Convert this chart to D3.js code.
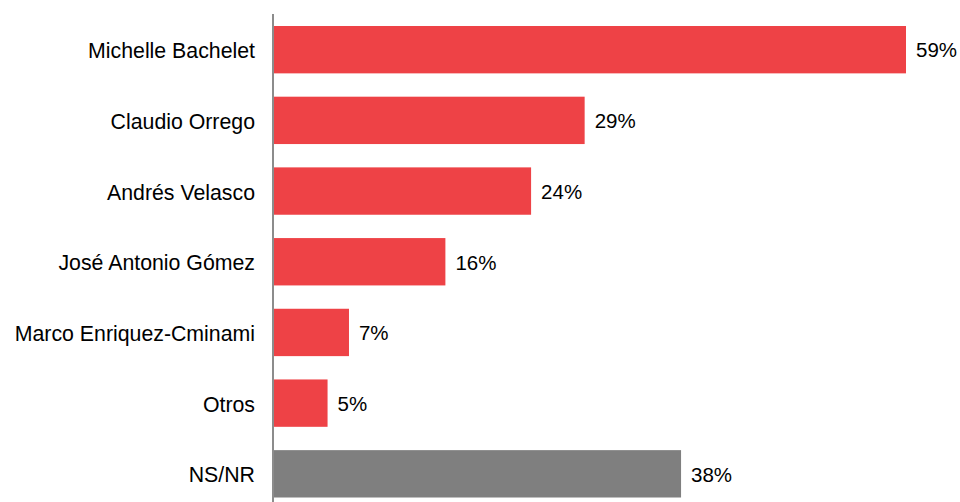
<!DOCTYPE html>
<html>
<head>
<meta charset="utf-8">
<script src="https://cdn.jsdelivr.net/npm/d3@7"></script>
<style>
  html, body { margin: 0; padding: 0; background: #fff; }
  text { font-family: "Liberation Sans", Arial, sans-serif; }
</style>
</head>
<body>
<svg id="chart" width="960" height="502"></svg>
<script>
const categories = ["Michelle Bachelet", "Claudio Orrego", "Andrés Velasco", "José Antonio Gómez", "Marco Enriquez-Cminami", "Otros", "NS/NR"];
const values = [59, 29, 24, 16, 7, 5, 38];
const colors = ["#EE4246", "#EE4246", "#EE4246", "#EE4246", "#EE4246", "#EE4246", "#7F7F7F"];

const svg = d3.select("#chart");
const x0 = 274;
const x = d3.scaleLinear().domain([0, 59]).range([x0, 906]);
const y = d3.scaleBand().domain(categories).range([26, 497.5]).paddingInner(0.33).paddingOuter(0);

const data = categories.map((c, i) => ({ c, v: values[i], col: colors[i] }));

svg.selectAll("rect.bar").data(data).enter().append("rect")
  .attr("class", "bar")
  .attr("x", x(0))
  .attr("y", d => y(d.c))
  .attr("width", d => x(d.v) - x(0))
  .attr("height", y.bandwidth())
  .attr("fill", d => d.col);

svg.append("line")
  .attr("x1", 273).attr("x2", 273)
  .attr("y1", 14).attr("y2", 502)
  .attr("stroke", "#8C8C8C").attr("stroke-width", 2);

svg.selectAll("text.cat").data(data).enter().append("text")
  .attr("class", "cat")
  .attr("x", 255)
  .attr("y", d => y(d.c) + y.bandwidth() / 2)
  .attr("dy", "0.4em")
  .attr("text-anchor", "end")
  .attr("font-size", 21.3)
  .attr("fill", "#000")
  .text(d => d.c);

svg.selectAll("text.val").data(data).enter().append("text")
  .attr("class", "val")
  .attr("x", d => x(d.v) + 10)
  .attr("y", d => y(d.c) + y.bandwidth() / 2)
  .attr("dy", "0.38em")
  .attr("font-size", 20.5)
  .attr("fill", "#000")
  .text(d => d.v + "%");
</script>
</body>
</html>
